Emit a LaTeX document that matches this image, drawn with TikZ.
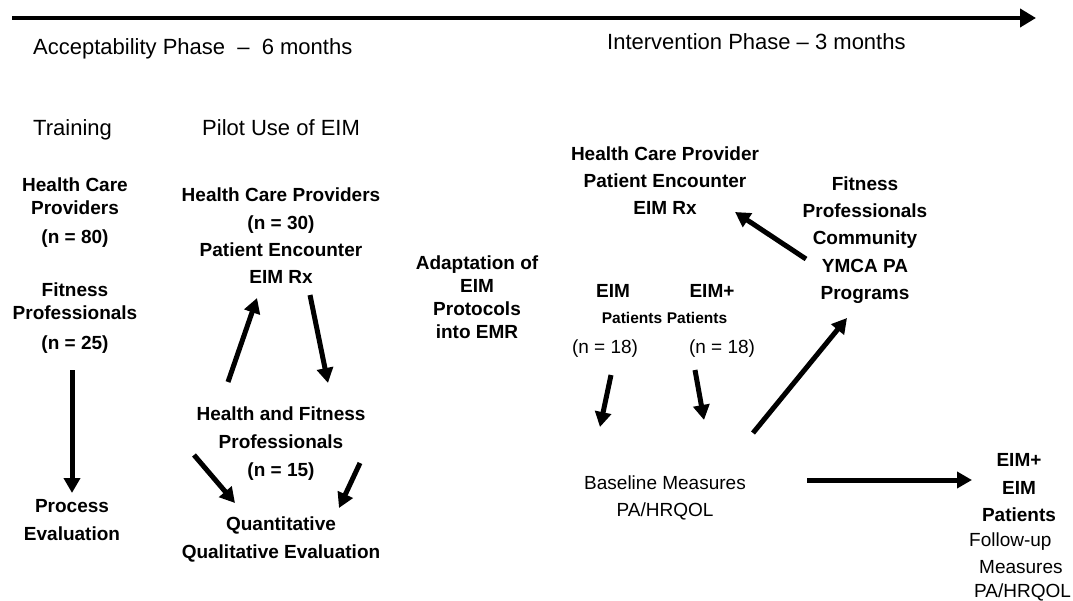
\documentclass[tikz,border=0pt]{standalone}
\usepackage{fontspec}
\setmainfont{Liberation Sans}
\usetikzlibrary{arrows.meta}
\begin{document}
\begin{tikzpicture}[x=1pt,y=-1pt,
  phase/.style={anchor=base west,inner sep=0pt,font=\fontsize{22}{26}\selectfont},
  bold/.style={anchor=base,inner sep=0pt,align=center,font=\fontsize{19}{28}\selectfont\bfseries},
  boldtight/.style={anchor=base,inner sep=0pt,align=center,font=\fontsize{19}{23}\selectfont\bfseries},
  plain/.style={anchor=base,inner sep=0pt,align=center,font=\fontsize{19}{27}\selectfont},
  small/.style={anchor=base,inner sep=0pt,font=\fontsize{15.5}{18}\selectfont\bfseries},
  flow/.style={line width=5pt,-{Triangle[length=15pt,width=16pt]}},
  timeline/.style={line width=4.5pt,-{Triangle[length=16pt,width=18pt]}}]
\useasboundingbox (0,0) rectangle (1073,601);

% time axis and phase headings (multi-line nodes sit on their last baseline)
\coordinate (tstart) at (12,18);
\coordinate (tend) at (1036,18);
\draw[timeline] (tstart) -- (tend);
\node[phase] (accept) at (33,55) {Acceptability Phase \ -- \ 6 months};
\node[phase] (interv) at (607,50) {Intervention Phase -- 3 months};
\node[phase] (training) at (33,136) {Training};
\node[phase] (pilot) at (202,136) {Pilot Use of EIM};

% training column
\node[boldtight] (hcp80) at (75,244) {Health Care\\Providers\\[6pt](n = 80)};
\node[boldtight] (fp25) at (75,349) {Fitness\\Professionals\\[6pt](n = 25)};
\node[bold] (process) at (72,540) {Process\\Evaluation};

% pilot column
\node[bold] (hcp30) at (281,284) {Health Care Providers\\[-0.5pt](n = 30)\\[-1pt]Patient Encounter\\[-0.5pt]EIM Rx};
\node[bold] (hfp15) at (281,476) {Health and Fitness\\Professionals\\(n = 15)};
\node[bold] (quant) at (281,558) {Quantitative\\Qualitative Evaluation};

% adaptation
\node[boldtight] (adapt) at (477,338) {Adaptation of\\EIM\\Protocols\\into EMR};

% intervention phase
\node[bold] (hcp) at (665,215) {Health Care Provider\\[-1pt]Patient Encounter\\[-0.5pt]EIM Rx};
\node[bold] (eim) at (613,298) {EIM};
\node[bold] (eimplus) at (712,298) {EIM+};
\node[small] (pat1) at (632,324) {Patients};
\node[small] (pat2) at (697,324) {Patients};
\node[plain] (n18a) at (605,354) {(n = 18)};
\node[plain] (n18b) at (722,354) {(n = 18)};
\node[bold] (fitcomm) at (865,300) {Fitness\\[-0.5pt]Professionals\\[-1pt]Community\\[-0.5pt]YMCA PA\\[-0.5pt]Programs};
\node[plain] (baseline) at (665,516) {Baseline Measures\\PA/HRQOL};
\node[bold] (final) at (1019,521) {EIM+\\EIM\\[-1pt]Patients};
\node[plain,anchor=base west,align=left] (followup) at (969,597)
  {Follow-up\\[0pt]\hspace*{10pt}Measures\\[-3pt]\hspace*{5pt}PA/HRQOL};

% arrows
\coordinate (a1s) at (72,370);  \coordinate (a1e) at (72,493);
\coordinate (a2s) at (228,382); \coordinate (a2e) at (257,298);
\coordinate (a3s) at (310,295); \coordinate (a3e) at (328,383);
\coordinate (a4s) at (194,455); \coordinate (a4e) at (235,503);
\coordinate (a5s) at (360,463); \coordinate (a5e) at (339,508);
\coordinate (a6s) at (611,375); \coordinate (a6e) at (600,427);
\coordinate (a7s) at (695,370); \coordinate (a7e) at (704,420);
\coordinate (a8s) at (753,433); \coordinate (a8e) at (847,318);
\coordinate (a9s) at (806,259); \coordinate (a9e) at (735,212);
\coordinate (a10s) at (807,480); \coordinate (a10e) at (972,480);
\draw[flow] (a1s) -- (a1e);
\draw[flow] (a2s) -- (a2e);
\draw[flow] (a3s) -- (a3e);
\draw[flow] (a4s) -- (a4e);
\draw[flow] (a5s) -- (a5e);
\draw[flow] (a6s) -- (a6e);
\draw[flow] (a7s) -- (a7e);
\draw[flow] (a8s) -- (a8e);
\draw[flow] (a9s) -- (a9e);
\draw[flow] (a10s) -- (a10e);
\end{tikzpicture}
\end{document}
